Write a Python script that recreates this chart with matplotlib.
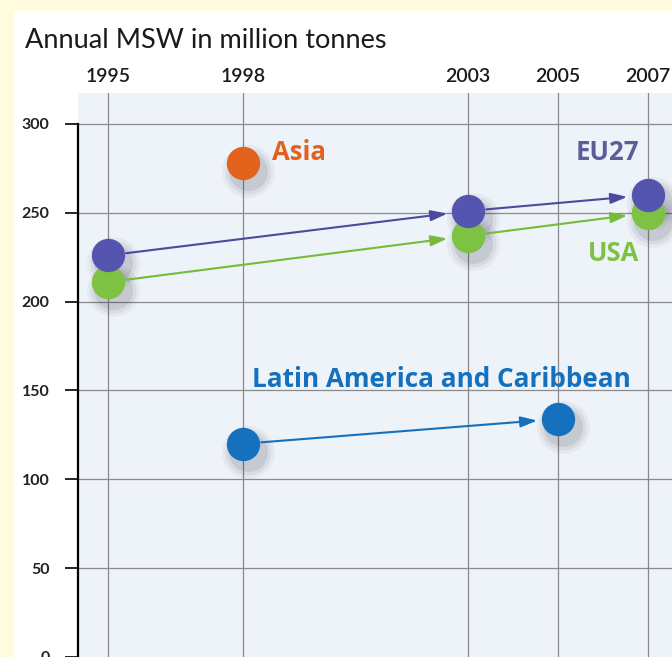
import matplotlib
matplotlib.use('Agg')
from matplotlib import pyplot as plt
from matplotlib.patches import Rectangle
import numpy as np

matplotlib.rcParams['font.family'] = ['Open Sans', 'DejaVu Sans']

# data (million tonnes)
years_ticks = [1995, 1998, 2003, 2005, 2007]
eu_years = [1995, 2003, 2007]
eu_vals = [226, 251, 260]
usa_years = [1995, 2003, 2007]
usa_vals = [211, 237, 250]
asia_years = [1998]
asia_vals = [278]
lac_years = [1998, 2005]
lac_vals = [120, 134]

c_eu = '#5555b0'
c_eu_line = '#4a4a9e'
c_usa = '#7dc242'
c_asia = '#e2621b'
c_lac = '#1570bd'

fig = plt.figure(figsize=(6.72, 6.57), dpi=100)
fig.patch.set_facecolor('#fffbdc')
fig.patches.append(Rectangle((14 / 672, 0), 1, 1 - 11 / 657, transform=fig.transFigure,
                             facecolor='white', edgecolor='none', zorder=-10))

ax = fig.add_axes([78 / 672, 0, 1 - 78 / 672, 1 - 93 / 657])
ax.set_facecolor('#eef2f9')
ax.set_xlim(1994.33, 2007.53)
ax.set_ylim(0, 317.4)

for s in ['top', 'right', 'bottom']:
    ax.spines[s].set_visible(False)
ax.spines['left'].set_bounds(0, 300)
ax.spines['left'].set_linewidth(1.6)

ax.set_yticks([0, 50, 100, 150, 200, 250, 300])
ax.tick_params(axis='y', direction='out', length=9.5, width=1.2, pad=11)
for lbl in ax.get_yticklabels():
    lbl.set_family(['Lato', 'Open Sans'])
    lbl.set_fontsize(11.5)
    lbl.set_fontweight('bold')
    lbl.set_color('#222222')
ax.xaxis.tick_top()
ax.set_xticks(years_ticks)
ax.set_xticklabels([str(y) for y in years_ticks])
ax.tick_params(axis='x', length=0, pad=6, labelcolor='#1a1a1a')
for lbl in ax.get_xticklabels():
    lbl.set_family(['Lato', 'Open Sans'])
    lbl.set_fontsize(14)
    lbl.set_fontweight('semibold')

for y in [50, 100, 150, 200, 250, 300]:
    ax.axhline(y, color='#8a8a8a', lw=0.9, zorder=1)
for x in years_ticks:
    ax.axvline(x, color='#8a8a8a', lw=0.9, zorder=1)


def series(xs, ys, color, line_color, lw=1.5):
    for i in range(len(xs) - 1):
        ax.annotate('', xy=(xs[i + 1], ys[i + 1]), xytext=(xs[i], ys[i]),
                    arrowprops=dict(arrowstyle='-|>,head_length=1.0,head_width=0.32',
                                    color=line_color, lw=lw, shrinkA=13, shrinkB=15),
                    zorder=3)
    # soft shadow
    for k, a in [(38, 0.05), (33, 0.07), (28, 0.1)]:
        ax.plot(np.array(xs) + 0.11, np.array(ys) - 4.5, 'o', ms=k, color='#303040',
                alpha=a, mec='none', zorder=2)
    ax.plot(xs, ys, 'o', ms=24, color=color, mec='none', zorder=4)


series(usa_years, usa_vals, c_usa, '#76bb3a')
series(eu_years, eu_vals, c_eu, c_eu_line)
series(asia_years, asia_vals, c_asia, c_asia)
series(lac_years, lac_vals, c_lac, c_lac)

ax.text(1998.65, 284, 'Asia', color=c_asia, fontsize=18.5, fontweight='bold', va='center')
ax.text(2006.8, 284, 'EU27', color='#5d5d9a', fontsize=18.5, fontweight='bold',
        va='center', ha='right')
ax.text(2006.8, 227, 'USA', color=c_usa, fontsize=18.5, fontweight='bold',
        va='center', ha='right')
ax.text(1998.2, 156, 'Latin America and Caribbean', color=c_lac, fontsize=18.8,
        fontweight='bold', va='center', ha='left')

fig.text(25 / 672, 1 - 40 / 657, 'Annual MSW in million tonnes', fontsize=19.5,
         va='center', ha='left', color='#1a1a1a', family=['Lato', 'Open Sans'])

fig.savefig('out.png', dpi=100, facecolor=fig.get_facecolor())
